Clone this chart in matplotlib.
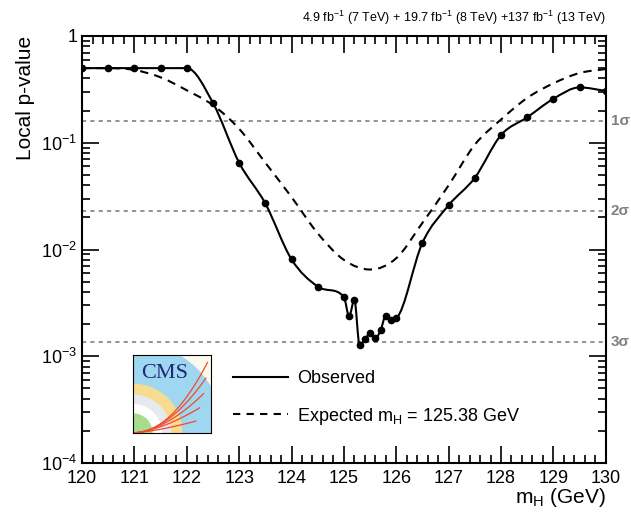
import numpy as np
import matplotlib
matplotlib.use("Agg")
import matplotlib.pyplot as plt
from matplotlib.path import Path
from matplotlib.patches import PathPatch, Wedge, Rectangle
from matplotlib.lines import Line2D
from matplotlib.ticker import FixedLocator, LogLocator, FuncFormatter, MultipleLocator, NullFormatter

plt.rcParams['font.family'] = ['Liberation Sans', 'DejaVu Sans']
plt.rcParams['mathtext.fontset'] = 'custom'
plt.rcParams['mathtext.rm'] = 'Liberation Sans'
plt.rcParams['mathtext.it'] = 'Liberation Sans:italic'
plt.rcParams['mathtext.default'] = 'regular'

# observed local p-value (points)
obs_mass = [120.0, 120.5, 121.0, 121.5, 122.0, 122.5, 123.0, 123.5, 124.0, 124.5,
            125.0, 125.1, 125.2, 125.3, 125.4, 125.5, 125.6, 125.7, 125.8, 125.9, 126.0,
            126.5, 127.0, 127.5, 128.0, 128.5, 129.0, 129.5, 130.0]
obs_p = [0.50, 0.50, 0.50, 0.50, 0.50, 0.236, 0.065, 0.027, 0.0081, 0.0045,
         0.0036, 0.00237, 0.0034, 0.00127, 0.00144, 0.00164, 0.00147, 0.00175, 0.0024, 0.0022, 0.00227,
         0.0116, 0.026, 0.047, 0.118, 0.173, 0.258, 0.330, 0.306]

# expected for mH = 125.38 GeV
exp_mass = [120.0, 120.5, 121.0, 121.5, 122.0, 122.5, 123.0, 123.5, 124.0, 124.5,
            125.0, 125.5, 126.0, 126.5, 127.0, 127.5, 128.0, 128.5, 129.0, 129.5, 130.0]
exp_p = [0.50, 0.50, 0.48, 0.41, 0.31, 0.225, 0.135, 0.065, 0.031, 0.0142,
         0.0080, 0.0065, 0.0083, 0.0178, 0.040, 0.096, 0.165, 0.263, 0.36, 0.45, 0.49]

sigma_p = [0.1587, 0.02275, 0.00135]
sigma_lab = ['1σ', '2σ', '3σ']


def smooth_path(x, p):
    # monotone cubic through the points, drawn as bezier segments in log space
    x = np.asarray(x, float)
    y = np.log10(np.asarray(p, float))
    n = len(x)
    d = np.diff(y) / np.diff(x)
    m = np.zeros(n)
    m[0] = d[0]
    m[-1] = d[-1]
    for i in range(1, n - 1):
        if d[i - 1] * d[i] > 0:
            m[i] = 2.0 / (1.0 / d[i - 1] + 1.0 / d[i]) if abs(d[i-1]) > 1e-9 else 0.0
            m[i] = (d[i - 1] + d[i]) / 2 if abs(m[i]) < abs((d[i - 1] + d[i]) / 2) else m[i]
            m[i] = np.sign(m[i]) * min(abs(m[i]), 3 * min(abs(d[i - 1]), abs(d[i])))
    verts = [(x[0], 10 ** y[0])]
    codes = [Path.MOVETO]
    for i in range(n - 1):
        h = x[i + 1] - x[i]
        verts += [(x[i] + h / 3, 10 ** (y[i] + m[i] * h / 3)),
                  (x[i + 1] - h / 3, 10 ** (y[i + 1] - m[i + 1] * h / 3)),
                  (x[i + 1], 10 ** y[i + 1])]
        codes += [Path.CURVE4] * 3
    return Path(verts, codes)


fig = plt.figure(figsize=(6.31, 5.14), dpi=100)
ax = fig.add_axes([0.130, 0.099, 0.830, 0.831])

for sp, lab in zip(sigma_p, sigma_lab):
    ax.axhline(sp, color='#808080', ls=(0, (2.5, 2.5)), lw=1.2, zorder=1)
    ax.text(1.010, sp, lab, transform=ax.get_yaxis_transform(), color='#808080',
            fontsize=11, fontweight='bold', va='center', ha='left')

ax.add_patch(PathPatch(smooth_path(exp_mass, exp_p), fill=False, ec='black', lw=1.5,
                       ls=(0, (4, 3)), zorder=2))
ax.add_patch(PathPatch(smooth_path(obs_mass, obs_p), fill=False, ec='black', lw=1.5, zorder=3))
ax.plot(obs_mass, obs_p, 'o', color='black', ms=4.5, zorder=4)

ax.set_yscale('log')
ax.set_xlim(120, 130)
ax.set_ylim(1e-4, 1)

ax.xaxis.set_major_locator(MultipleLocator(1))
ax.xaxis.set_minor_locator(MultipleLocator(0.2))
ax.yaxis.set_major_locator(FixedLocator([1e-4, 1e-3, 1e-2, 1e-1, 1]))
ax.yaxis.set_minor_locator(LogLocator(base=10, subs=np.arange(2, 10), numticks=20))
ax.yaxis.set_minor_formatter(NullFormatter())
ax.yaxis.set_major_formatter(FuncFormatter(
    lambda v, pos: '1' if v >= 0.99 else r'$10^{%d}$' % round(np.log10(v))))

ax.tick_params(which='both', direction='in', top=True, right=True, labelsize=13, width=1.2)
ax.tick_params(which='major', length=12)
ax.tick_params(which='minor', length=6)
ax.tick_params(axis='x', pad=5)
for s in ax.spines.values():
    s.set_linewidth(1.5)

ax.set_ylabel('Local p-value', fontsize=15, loc='top')
ax.set_xlabel(r'm$_{H}$ (GeV)', fontsize=15, loc='right', labelpad=-1)

fig.text(0.960, 0.966, r'4.9 fb$^{-1}$ (7 TeV) + 19.7 fb$^{-1}$ (8 TeV) +137 fb$^{-1}$ (13 TeV)',
         ha='right', va='center', fontsize=9)

handles = [Line2D([], [], color='black', lw=1.5),
           Line2D([], [], color='black', lw=1.5, ls=(0, (3.5, 3)))]
ax.legend(handles, ['Observed', r'Expected m$_{H}$ = 125.38 GeV'], loc='lower left',
          bbox_to_anchor=(0.258, 0.047), frameon=False, fontsize=13, handlelength=3.0,
          labelspacing=1.05, handletextpad=0.55)

# CMS logo
lg = fig.add_axes([0.211, 0.158, 0.124, 0.152])
lg.set_xlim(0, 1)
lg.set_ylim(0, 1)
lg.set_xticks([])
lg.set_yticks([])
lg.add_patch(Rectangle((0, 0), 1, 1, color='#fbf8ec'))
lg.add_patch(Wedge((0, 0), 1.15, 0, 90, color='#9fd6f0'))
lg.add_patch(Wedge((0, 0), 0.62, 0, 90, color='#f7dc90'))
lg.add_patch(Wedge((0, 0), 0.48, 0, 90, color='#e6e9ee'))
lg.add_patch(Wedge((0, 0), 0.36, 0, 90, color='#ffffff'))
lg.add_patch(Wedge((0, 0), 0.24, 0, 90, color='#a8dc8c'))
tt = np.linspace(0, 1, 30)
for ex, ey, c in [(0.95, 0.9, 0.35), (0.93, 0.7, 0.3), (0.9, 0.5, 0.25), (0.85, 0.32, 0.2), (0.8, 0.15, 0.15)]:
    lg.plot(ex * tt, ey * tt ** (1 + c * 3), color='#f04a2c', lw=0.9)
lg.text(0.40, 0.76, 'CMS', fontfamily='Liberation Serif', fontsize=16, color='#1d2a7a',
        ha='center', va='center')
for s in lg.spines.values():
    s.set_linewidth(0.8)

fig.savefig('out.png', dpi=100)
